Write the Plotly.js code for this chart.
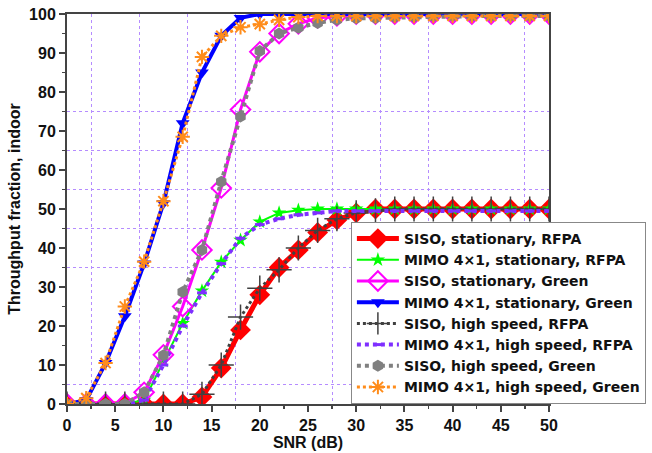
<!DOCTYPE html>
<html>
<head>
<meta charset="utf-8">
<script src="https://cdn.plot.ly/plotly-3.0.1.min.js"></script>
<style>html,body{margin:0;padding:0;background:#fff;}#chart{width:652px;height:453px;}</style>
</head>
<body>
<div id="chart"></div>
<script>
const snr = [0,2,4,6,8,10,12,14,16,18,20,22,24,26,28,30,32,34,36,38,40,42,44,46,48,50];
const sisoStatRFPA  = [0,0,0,0,0,0,0,1.8,9.2,19,28,35,39.5,44,47.2,49,50,50,50,50,50,50,50,50,50,50];
const mimoStatRFPA  = [0,0,0,0,1,11,20.7,29,36.4,42,46.7,49,49.7,50,50,50,50,50,50,50,50,50,50,50,50,50];
const sisoStatGreen = [0,0,0,0,3,12.6,25,39.5,55.4,75.5,90.3,95,97.5,99,99.5,100,100,100,100,100,100,100,100,100,100,100];
const mimoStatGreen = [0,1,10.5,22.5,36,51.5,72,85,94.4,99,100,100,100,100,100,100,100,100,100,100,100,100,100,100,100,100];
const sisoHsRFPA    = [0,0,0,0,0,0,0,2.5,10,22.3,29.7,34.4,40,44.5,47.5,49,49.5,50,50,50,50,50,50,50,50,50];
const mimoHsRFPA    = [0,0,0,0,1,10,20,28.5,36,42.5,46,47.5,48.5,49,49.5,49.5,49.5,49.5,49.5,49.5,49.5,49.5,49.5,49.5,49.5,49.5];
const sisoHsGreen   = [0,0,0,0,3,12.5,28.7,39.5,57,73.7,90.5,95,96.5,97.7,98.5,98.9,99,99.2,99.3,99.4,99.5,99.5,99.5,99.5,99.5,99.5];
const mimoHsGreen   = [0,1.5,10.5,25,36.5,52,68.5,89,94.4,96.6,97.4,98.5,99.2,99.5,99.5,99.5,99.5,99.5,99.5,99.5,99.5,99.5,99.5,99.5,99.5,99.5];
const names = ["SISO, stationary, RFPA","MIMO 4×1, stationary, RFPA","SISO, stationary, Green","MIMO 4×1, stationary, Green",
               "SISO, high speed, RFPA","MIMO 4×1, high speed, RFPA","SISO, high speed, Green","MIMO 4×1, high speed, Green"];
const xTicks = [0,5,10,15,20,25,30,35,40,45,50];
const gridX = [2.5,7.5,12.5,17.5,27.5,32.5,37.5,47.5];
const gridY = [5,35,45,55,65,75];

const traces = [
 {y:sisoStatRFPA, name:names[0], line:{color:'#ff0000',width:5}, marker:{symbol:'diamond',size:16,color:'#ff0000'}},
 {y:mimoStatRFPA, name:names[1], line:{color:'#00ff00',width:2}, marker:{symbol:'star',size:11,color:'#00ff00'}},
 {y:sisoStatGreen, name:names[2], line:{color:'#ff00ff',width:3}, marker:{symbol:'diamond-open',size:15,color:'#ff00ff',line:{width:2,color:'#ff00ff'}}},
 {y:mimoStatGreen, name:names[3], line:{color:'#0000ff',width:4}, marker:{symbol:'triangle-down',size:12,color:'#0000ff'}},
 {y:sisoHsRFPA, name:names[4], line:{color:'#404040',width:3,dash:'dot'}, marker:{symbol:'cross-thin-open',size:18,color:'#404040',line:{width:1.5,color:'#404040'}}},
 {y:mimoHsRFPA, name:names[5], line:{color:'#7f2fff',width:4,dash:'dot'}, marker:{symbol:'line-ew-open',size:7,color:'#7f2fff',line:{width:3,color:'#7f2fff'}}},
 {y:sisoHsGreen, name:names[6], line:{color:'#808080',width:4,dash:'dot'}, marker:{symbol:'hexagon',size:12,color:'#808080'}},
 {y:mimoHsGreen, name:names[7], line:{color:'#ff8c1a',width:3,dash:'dot'}, marker:{symbol:'asterisk-open',size:12,color:'#ff8c1a',line:{width:2,color:'#ff8c1a'}}}
].map(t => Object.assign({x:snr, type:'scatter', mode:'lines+markers', cliponaxis:true}, t));

// invisible trace to activate grid axes
traces.unshift({x:[0,50], y:[0,100], xaxis:'x2', yaxis:'y2', mode:'markers', marker:{opacity:0}, showlegend:false, hoverinfo:'skip'});

const font = {family:'Liberation Sans, Arial, sans-serif', size:16, color:'#111', weight:'bold'};
const legendFont = {family:'DejaVu Sans, sans-serif', size:14, color:'#111', weight:'bold'};
const layout = {
  width:652, height:453,
  margin:{l:67, r:103, t:14, b:49, autoexpand:false},
  paper_bgcolor:'#fff', plot_bgcolor:'#fff',
  font:font,
  showlegend:true,
  xaxis:{range:[0,50], tickvals:xTicks, ticks:'outside', ticklen:6, tickwidth:2, tickcolor:'#444',
         minor:{dtick:2.5, ticks:'outside', ticklen:3, tickwidth:1.5, tickcolor:'#444', showgrid:false},
         showline:true, linecolor:'#444', linewidth:2, mirror:true, showgrid:false, zeroline:false,
         tickfont:font, title:{text:'SNR (dB)', font:font, standoff:2}},
  yaxis:{range:[0,100], dtick:10, ticks:'outside', ticklen:6, tickwidth:2, tickcolor:'#444',
         minor:{dtick:5, ticks:'outside', ticklen:3, tickwidth:1.5, tickcolor:'#444', showgrid:false},
         showline:true, linecolor:'#444', linewidth:2, mirror:true, showgrid:false, zeroline:false,
         tickfont:font, title:{text:'Throughput fraction, indoor', font:font, standoff:4}},
  xaxis2:{overlaying:'x', range:[0,50], tickvals:gridX, showticklabels:false, ticks:'', showgrid:true, gridcolor:'#b58cff', griddash:'dot', gridwidth:1, zeroline:false, showline:false, layer:'below traces'},
  yaxis2:{overlaying:'y', range:[0,100], tickvals:gridY, showticklabels:false, ticks:'', showgrid:true, gridcolor:'#b58cff', griddash:'dot', gridwidth:1, zeroline:false, showline:false, layer:'below traces'},
  legend:{x:0.589, xanchor:'left', y:0, yanchor:'bottom', bgcolor:'#fff', bordercolor:'#888', borderwidth:1,
          font:legendFont, itemwidth:42, tracegroupgap:0, traceorder:'normal'}
};
Plotly.newPlot('chart', traces, layout, {displayModeBar:false, staticPlot:true});
</script>
</body>
</html>
